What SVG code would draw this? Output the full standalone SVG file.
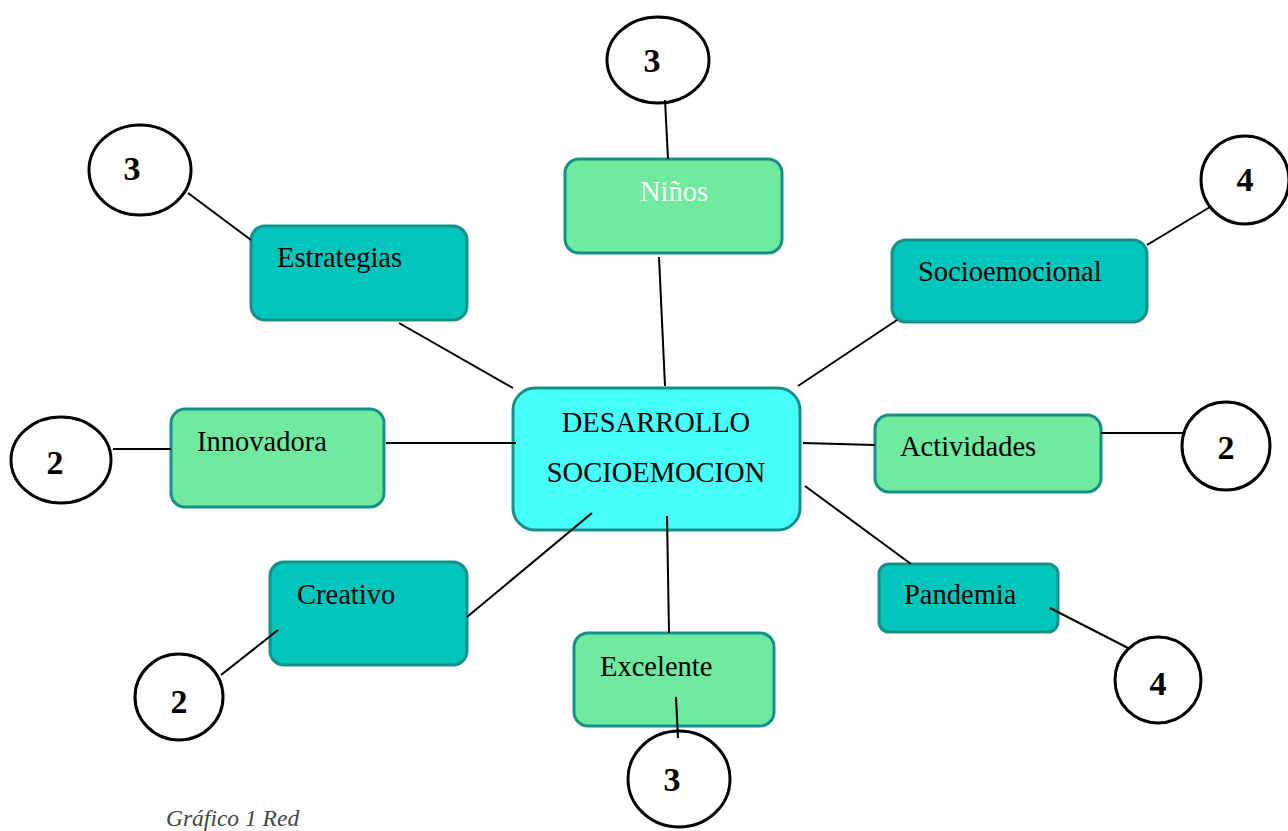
<svg xmlns="http://www.w3.org/2000/svg" width="1288" height="831" viewBox="0 0 1288 831">
<style>
.lbl{font-family:"Liberation Serif","Times New Roman",serif;font-size:28.5px;fill:#000}
.num{font-family:"Liberation Serif","Times New Roman",serif;font-size:34px;font-weight:bold;fill:#000;text-anchor:middle}
.g{fill:#6FEA9E;stroke:#16918A;stroke-width:3}
.t{fill:#00C5BB;stroke:#16918A;stroke-width:3}
.c{fill:#fff;stroke:#000;stroke-width:3}
.ln{stroke:#000;stroke-width:2;fill:none}
</style>
<rect width="1288" height="831" fill="#fff"/>
<g id="center">
<rect x="513" y="388" width="287" height="142" rx="22" fill="#47FEF8" stroke="#16918A" stroke-width="3"/>
<text class="lbl" x="656" y="432" text-anchor="middle">DESARROLLO</text>
<text class="lbl" x="656" y="482" text-anchor="middle">SOCIOEMOCION</text>
</g>
<g id="ninos"><rect class="g" x="565" y="159" width="217" height="94" rx="14"/><text class="lbl" x="640" y="201" style="fill:#fff">Niños</text></g>
<g id="estrategias"><rect class="t" x="251" y="226" width="216" height="94" rx="14"/><text class="lbl" x="277" y="267">Estrategias</text></g>
<g id="socioemocional"><rect class="t" x="892" y="240" width="255" height="82" rx="14"/><text class="lbl" x="918" y="281">Socioemocional</text></g>
<g id="innovadora"><rect class="g" x="171" y="409" width="213" height="98" rx="14"/><text class="lbl" x="197" y="451">Innovadora</text></g>
<g id="actividades"><rect class="g" x="875" y="415" width="226" height="77" rx="14"/><text class="lbl" x="900" y="456">Actividades</text></g>
<g id="creativo"><rect class="t" x="270" y="562" width="197" height="103" rx="14"/><text class="lbl" x="297" y="604">Creativo</text></g>
<g id="pandemia"><rect class="t" x="879" y="564" width="179" height="68" rx="10"/><text class="lbl" x="904" y="604">Pandemia</text></g>
<g id="excelente"><rect class="g" x="574" y="633" width="200" height="93" rx="14"/><text class="lbl" x="600" y="676">Excelente</text></g>
<g id="c-top"><ellipse class="c" cx="658" cy="60" rx="51" ry="43"/><text class="num" x="652" y="72">3</text></g>
<g id="c-estrategias"><ellipse class="c" cx="140" cy="170" rx="51" ry="45"/><text class="num" x="132" y="180">3</text></g>
<g id="c-socio"><ellipse class="c" cx="1245" cy="180" rx="44" ry="44"/><text class="num" x="1245" y="191">4</text></g>
<g id="c-innov"><ellipse class="c" cx="61" cy="460" rx="50" ry="43"/><text class="num" x="55" y="474">2</text></g>
<g id="c-activ"><ellipse class="c" cx="1226" cy="446" rx="44" ry="44"/><text class="num" x="1226" y="459">2</text></g>
<g id="c-creat"><ellipse class="c" cx="179" cy="697" rx="44" ry="43"/><text class="num" x="179" y="713">2</text></g>
<g id="c-pand"><ellipse class="c" cx="1158" cy="680" rx="43" ry="43"/><text class="num" x="1158" y="695">4</text></g>
<g id="c-exc"><ellipse class="c" cx="679" cy="779" rx="51" ry="48"/><text class="num" x="672" y="791">3</text></g>
<g id="connectors">
<line class="ln" x1="665" y1="100" x2="668" y2="159"/>
<line class="ln" x1="659" y1="257" x2="665" y2="386"/>
<line class="ln" x1="188" y1="193" x2="251" y2="240"/>
<line class="ln" x1="399" y1="323" x2="513" y2="388"/>
<line class="ln" x1="1210" y1="207" x2="1147" y2="245"/>
<line class="ln" x1="897" y1="320" x2="798" y2="386"/>
<line class="ln" x1="113" y1="449" x2="171" y2="449"/>
<line class="ln" x1="386" y1="443" x2="516" y2="443"/>
<line class="ln" x1="803" y1="443" x2="875" y2="445"/>
<line class="ln" x1="1101" y1="433" x2="1183" y2="433"/>
<line class="ln" x1="467" y1="617" x2="592" y2="513"/>
<line class="ln" x1="278" y1="630" x2="221" y2="675"/>
<line class="ln" x1="805" y1="486" x2="911" y2="564"/>
<line class="ln" x1="1050" y1="608" x2="1128" y2="648"/>
<line class="ln" x1="667" y1="516" x2="669" y2="633"/>
<line class="ln" x1="676" y1="697" x2="678" y2="738"/>
</g>
<text x="166" y="826" style="font-family:'Liberation Serif','Times New Roman',serif;font-size:23.5px;font-style:italic;fill:#444">Gráfico 1 Red</text>
</svg>
